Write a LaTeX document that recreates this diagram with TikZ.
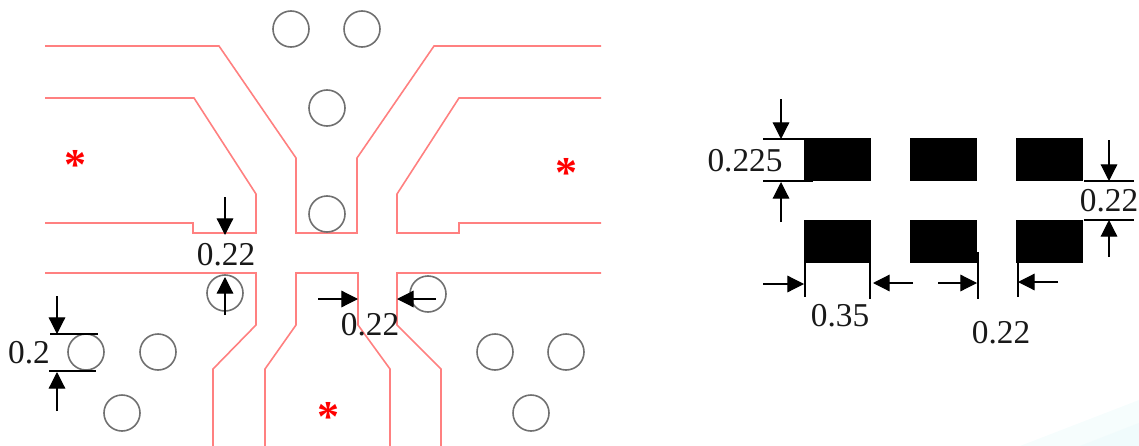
\documentclass[tikz,border=0pt]{standalone}
\usepackage{fontspec}
\setmainfont{Liberation Serif}
\usetikzlibrary{arrows.meta}
\definecolor{trace}{HTML}{FF8080}
\definecolor{viaring}{HTML}{707070}
\definecolor{tealA}{HTML}{F6FDFD}
\definecolor{tealB}{HTML}{F0FBFC}
\tikzset{
  trace/.style={draw=trace,line width=1.2pt,line join=miter},
  via/.style={draw=viaring,line width=1.2pt},
  pad/.style={fill=black,draw=none},
  dimarrow/.style={draw=black,line width=0.9pt,-{Triangle[length=12.5pt,width=12.5pt]}},
  extline/.style={draw=black,line width=0.9pt},
  dimlabel/.style={font=\fontsize{25}{25}\selectfont,text=black!90,inner sep=0pt,anchor=center},
  starmark/.style={font=\fontsize{33}{33}\selectfont\bfseries,text=red,inner sep=0pt,anchor=center}
}
\begin{document}
\begin{tikzpicture}[x=0.75pt,y=-0.75pt]
\useasboundingbox (0,0) rectangle (1139,446);
% background corner
\fill[tealA] (1020,446) -- (1139,400) -- (1139,446) -- cycle;
\fill[tealB] (1080,446) -- (1139,423) -- (1139,446) -- cycle;
% traces
\draw[trace] (45,46) -- (219,46) -- (296,158) -- (296,233) -- (357,233) -- (357,158) -- (434,46) -- (601,46);
\draw[trace] (45,98) -- (194,98) -- (256,194) -- (256,233) -- (193,233) -- (193,223) -- (45,223);
\draw[trace] (601,98) -- (459,98) -- (397,194) -- (397,233) -- (459,233) -- (459,223) -- (601,223);
\draw[trace] (45,273) -- (256,273) -- (256,325) -- (213,369) -- (213,446);
\draw[trace] (265,446) -- (265,369) -- (296,325) -- (296,273) -- (358,273) -- (358,325) -- (390,369) -- (390,446);
\draw[trace] (441,446) -- (441,369) -- (397,325) -- (397,273) -- (601,273);
% vias
\foreach \cx/\cy in {291/29,362/29,327/108,327/214,225/293,428/294,86/352,158/352,122/413,495/352,566/352,531/413}
  \draw[via] (\cx,\cy) circle[radius=18];
% stars
\node[starmark] (starL) at (75,165) {*};
\node[starmark] (starR) at (566,173) {*};
\node[starmark] (starB) at (328,417) {*};
% left dimensions
\coordinate (a1s) at (225,197); \coordinate (a1e) at (225,235);
\coordinate (a2s) at (225,315); \coordinate (a2e) at (225,277);
\coordinate (a3s) at (318,299); \coordinate (a3e) at (358,299);
\coordinate (a4s) at (436,299); \coordinate (a4e) at (397,299);
\coordinate (a5s) at (57,296);  \coordinate (a5e) at (57,334);
\coordinate (a6s) at (57,411);  \coordinate (a6e) at (57,372);
\draw[dimarrow] (a1s) -- (a1e);
\draw[dimarrow] (a2s) -- (a2e);
\draw[dimarrow] (a3s) -- (a3e);
\draw[dimarrow] (a4s) -- (a4e);
\draw[dimarrow] (a5s) -- (a5e);
\draw[dimarrow] (a6s) -- (a6e);
\draw[extline] (50,334) -- (98,334);
\draw[extline] (49,371) -- (96,371);
\node[dimlabel] (l1) at (226,255) {0.22};
\node[dimlabel] (l2) at (370,325) {0.22};
\node[dimlabel] (l3) at (29,353) {0.2};
% pads
\foreach \xa/\xb in {804/871,910/977,1016/1083}{
  \fill[pad] (\xa,138) rectangle (\xb,181);
  \fill[pad] (\xa,220) rectangle (\xb,263);
}
% right dimensions
\coordinate (b1s) at (781,99);   \coordinate (b1e) at (781,139);
\coordinate (b2s) at (781,222);  \coordinate (b2e) at (781,182);
\coordinate (b3s) at (1109,140); \coordinate (b3e) at (1109,181);
\coordinate (b4s) at (1109,257); \coordinate (b4e) at (1109,220);
\coordinate (b5s) at (763,284);  \coordinate (b5e) at (804,284);
\coordinate (b6s) at (913,283);  \coordinate (b6e) at (873,283);
\coordinate (b7s) at (938,283);  \coordinate (b7e) at (977,283);
\coordinate (b8s) at (1058,282); \coordinate (b8e) at (1018,282);
\draw[dimarrow] (b1s) -- (b1e);
\draw[dimarrow] (b2s) -- (b2e);
\draw[dimarrow] (b3s) -- (b3e);
\draw[dimarrow] (b4s) -- (b4e);
\draw[dimarrow] (b5s) -- (b5e);
\draw[dimarrow] (b6s) -- (b6e);
\draw[dimarrow] (b7s) -- (b7e);
\draw[dimarrow] (b8s) -- (b8e);
\draw[extline] (763,139) -- (804,139);
\draw[extline] (763,181) -- (813,181);
\draw[extline] (1084,181) -- (1134,181);
\draw[extline] (1084,220) -- (1134,220);
\draw[extline] (805,263) -- (805,297);
\draw[extline] (870,263) -- (870,299);
\draw[extline] (978,252) -- (978,299);
\draw[extline] (1018,263) -- (1018,297);
\node[dimlabel] (r1) at (745,161) {0.225};
\node[dimlabel] (r2) at (1109,201) {0.22};
\node[dimlabel] (r3) at (840,316) {0.35};
\node[dimlabel] (r4) at (1001,333) {0.22};
\end{tikzpicture}
\end{document}
